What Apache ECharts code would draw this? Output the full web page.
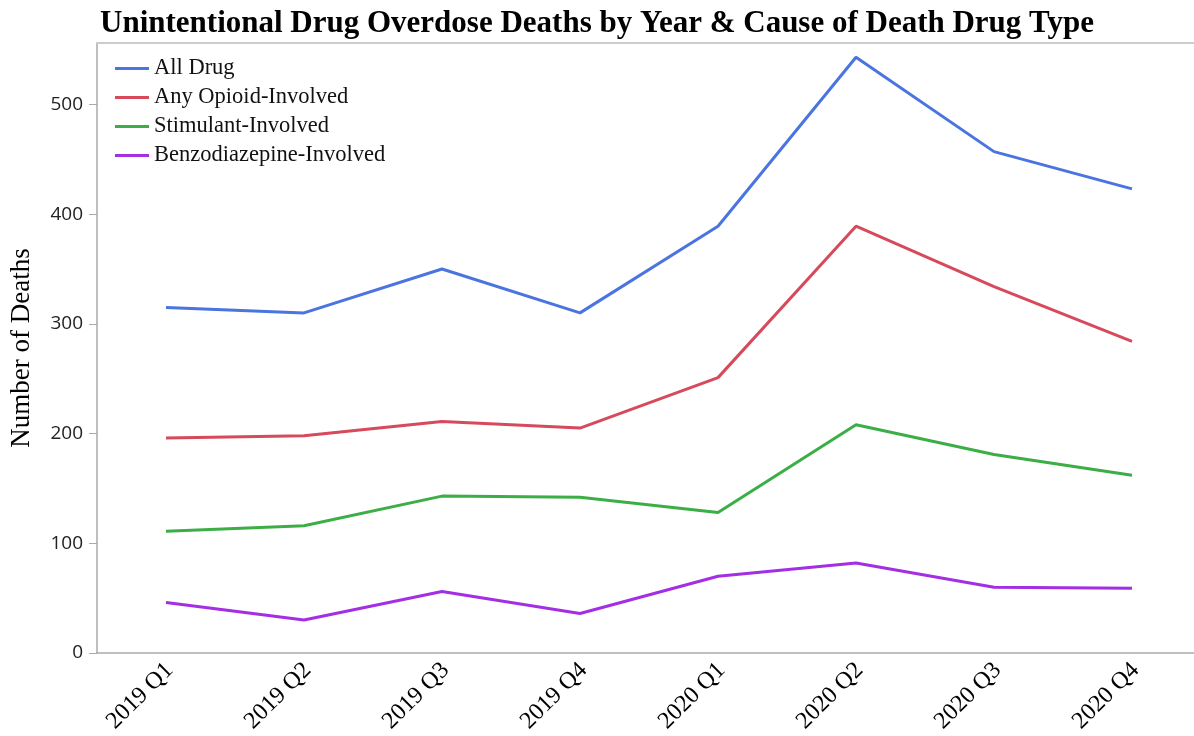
<!DOCTYPE html>
<html>
<head>
<meta charset="utf-8">
<script src="https://cdn.jsdelivr.net/npm/echarts@6/dist/echarts.min.js"></script>
<style>
  html, body { margin: 0; padding: 0; background: #fff; }
  #chart { width: 1194px; height: 736px; }
</style>
</head>
<body>
<div id="chart"></div>
<script>
const quarters = ['2019 Q1', '2019 Q2', '2019 Q3', '2019 Q4', '2020 Q1', '2020 Q2', '2020 Q3', '2020 Q4']
const allDrug = [315, 310, 350, 310, 389, 543, 457, 423]
const opioid = [196, 198, 211, 205, 251, 389, 334, 284]
const stimulant = [111, 116, 143, 142, 128, 208, 181, 162]
const benzo = [46, 30, 56, 36, 70, 82, 60, 59]

const serif = '"Liberation Serif", "Times New Roman", serif'

const chart = echarts.init(document.getElementById('chart'))

function line(name, data, color) {
  return {
    name: name,
    type: 'line',
    data: data,
    symbol: 'none',
    color: color,
    lineStyle: { width: 3, color: color },
    animation: false
  }
}

chart.setOption({
  title: {
    text: 'Unintentional Drug Overdose Deaths by Year & Cause of Death Drug Type',
    left: 'center',
    top: 3,
    textStyle: { fontFamily: serif, fontSize: 31, fontWeight: 'bold', color: '#000' }
  },
  legend: {
    orient: 'vertical',
    left: 110,
    top: 52,
    itemWidth: 34,
    itemHeight: 3,
    itemGap: 6,
    icon: 'rect',
    textStyle: { fontFamily: serif, fontSize: 22.5, color: '#111' }
  },
  grid: { left: 97, right: -7, top: 43, bottom: 83, outerBoundsMode: 'none' },
  xAxis: [{
    type: 'category',
    data: quarters,
    boundaryGap: true,
    axisLine: { lineStyle: { color: '#aaa', width: 1.5 } },
    axisTick: { show: false },
    axisLabel: {
      rotate: 45,
      margin: 17,
      padding: [0, -5, 0, 0],
      fontFamily: serif,
      fontSize: 24,
      color: '#000'
    }
  }, {
    type: 'category',
    data: quarters,
    position: 'top',
    axisLine: { show: true, lineStyle: { color: '#ccc', width: 2 } },
    axisTick: { show: false },
    axisLabel: { show: false }
  }],
  yAxis: {
    type: 'value',
    name: 'Number of Deaths',
    nameLocation: 'middle',
    nameGap: 62,
    nameTextStyle: { fontFamily: serif, fontSize: 27, color: '#000' },
    min: 0,
    max: 556,
    interval: 100,
    axisLine: { show: true, lineStyle: { color: '#aaa', width: 1.5 } },
    axisTick: { show: true, length: 8, lineStyle: { color: '#aaa' } },
    splitLine: { show: false },
    axisLabel: {
      showMaxLabel: false,
      margin: 14,
      fontFamily: '"Open Sans", "DejaVu Sans", sans-serif',
      fontSize: 19,
      color: '#222'
    }
  },
  series: [
    line('All Drug', allDrug, '#4a74e0'),
    line('Any Opioid-Involved', opioid, '#d64a5c'),
    line('Stimulant-Involved', stimulant, '#3cae46'),
    line('Benzodiazepine-Involved', benzo, '#a42ee4')
  ]
})
</script>
</body>
</html>
